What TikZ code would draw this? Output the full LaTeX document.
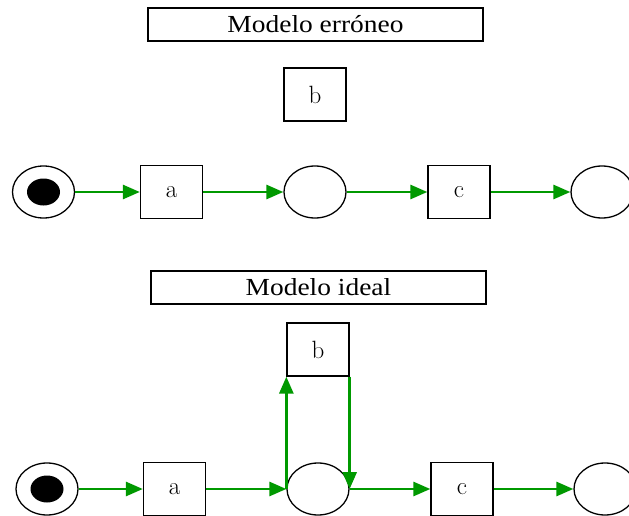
\documentclass[tikz,border=0pt]{standalone}
\usepackage{fontspec}
\newfontfamily\titlefont[FakeStretch=1.12]{Liberation Serif}
\usetikzlibrary{shapes.geometric,arrows.meta}
\definecolor{arcgreen}{RGB}{0,153,0}
\tikzset{
  place/.style={draw, ellipse, line width=1.3pt, minimum width=62pt, minimum height=52pt, inner sep=0pt},
  trans/.style={draw, rectangle, line width=1.3pt, minimum width=62pt, minimum height=53pt, inner sep=0pt, font=\fontsize{25}{28}\selectfont},
  titlebox/.style={draw, rectangle, line width=1.3pt, minimum width=335pt, minimum height=33pt, inner sep=0pt, font=\titlefont\fontsize{24.5}{27}\selectfont},
  token/.style={fill=black, ellipse, minimum width=33pt, minimum height=27pt, inner sep=0pt},
  arc/.style={draw=arcgreen, line width=2.8pt, -{Triangle[length=17pt,width=14pt]}}
}
\begin{document}
\begin{tikzpicture}[x=1pt,y=-1pt]
\useasboundingbox (0,0) rectangle (629,516);
\clip (0,0) rectangle (629,516);
\fill[white] (0,0) rectangle (629,516);
% top model
\node[titlebox] (t1) at (315.5,24.5) {Modelo erróneo};
\node[trans] (b1) at (315,94.5) {b};
\node[place] (s1) at (43.5,192) {};
\node[token] (k1) at (43.5,192) {};
\node[trans] (a1) at (171.5,192) {a};
\node[place] (m1) at (315,192) {};
\node[trans] (c1) at (459,192) {c};
\node[place] (e1) at (602,192) {};
\draw[arc] (s1) -- (a1);
\draw[arc] (a1) -- (m1);
\draw[arc] (m1) -- (c1);
\draw[arc] (c1) -- (e1);
% bottom model
\node[titlebox] (t2) at (318.5,287.5) {Modelo ideal};
\node[trans] (b2) at (318,349.5) {b};
\node[place] (s2) at (47,489) {};
\node[token] (k2) at (47,489) {};
\node[trans] (a2) at (174.5,489) {a};
\node[place] (m2) at (318,489) {};
\node[trans] (c2) at (462,489) {c};
\node[place] (e2) at (605,489) {};
\draw[arc] (s2) -- (a2);
\draw[arc] (a2) -- (m2);
\draw[arc] (m2) -- (c2);
\draw[arc] (c2) -- (e2);
\draw[arc] (m2.west) -- (b2.south west);
\draw[arc] (b2.south east) -- (m2.east);
\end{tikzpicture}
\end{document}
